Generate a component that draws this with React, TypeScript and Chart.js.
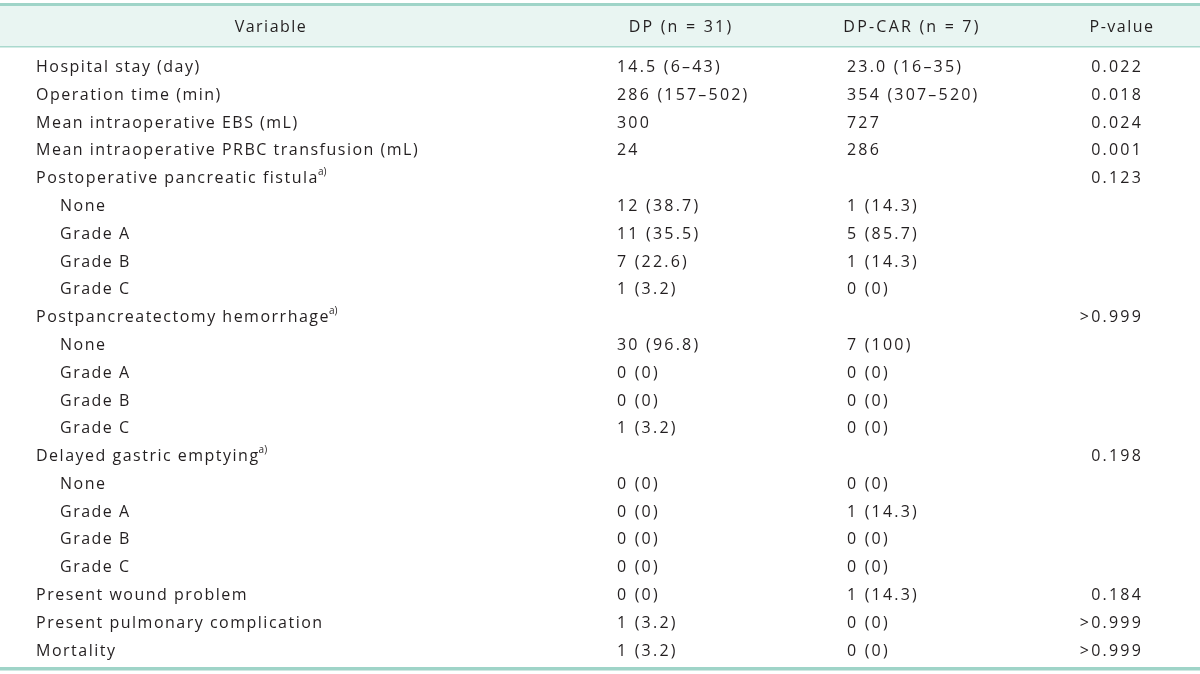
import { useEffect, useRef } from "react";
import { Chart, registerables } from "chart.js";

Chart.register(...registerables);

// ---- table content ----
const headers = ["Variable", "DP (n = 31)", "DP-CAR (n = 7)", "P-value"];

const variables = [
  "Hospital stay (day)",
  "Operation time (min)",
  "Mean intraoperative EBS (mL)",
  "Mean intraoperative PRBC transfusion (mL)",
  "Postoperative pancreatic fistula",
  "None",
  "Grade A",
  "Grade B",
  "Grade C",
  "Postpancreatectomy hemorrhage",
  "None",
  "Grade A",
  "Grade B",
  "Grade C",
  "Delayed gastric emptying",
  "None",
  "Grade A",
  "Grade B",
  "Grade C",
  "Present wound problem",
  "Present pulmonary complication",
  "Mortality",
];

const subRows = [
  false, false, false, false, false, true, true, true, true,
  false, true, true, true, true,
  false, true, true, true, true,
  false, false, false,
];

const footnotes = [
  "", "", "", "", "a)", "", "", "", "",
  "a)", "", "", "", "",
  "a)", "", "", "", "",
  "", "", "",
];

const dpValues = [
  "14.5 (6–43)", "286 (157–502)", "300", "24", "",
  "12 (38.7)", "11 (35.5)", "7 (22.6)", "1 (3.2)", "",
  "30 (96.8)", "0 (0)", "0 (0)", "1 (3.2)", "",
  "0 (0)", "0 (0)", "0 (0)", "0 (0)",
  "0 (0)", "1 (3.2)", "1 (3.2)",
];

const carValues = [
  "23.0 (16–35)", "354 (307–520)", "727", "286", "",
  "1 (14.3)", "5 (85.7)", "1 (14.3)", "0 (0)", "",
  "7 (100)", "0 (0)", "0 (0)", "0 (0)", "",
  "0 (0)", "1 (14.3)", "0 (0)", "0 (0)",
  "1 (14.3)", "0 (0)", "0 (0)",
];

const pValues = [
  "0.022", "0.018", "0.024", "0.001", "0.123",
  "", "", "", "", ">0.999",
  "", "", "", "", "0.198",
  "", "", "", "",
  "0.184", ">0.999", ">0.999",
];

// ---- layout / style (not data) ----
const FONT_FAMILY = "'Open Sans', 'Noto Sans', sans-serif";
const FONT_SIZE = 16;
const LETTER_SPACING = 1.5;
const NUM_SPACING = 2.2;
const TEXT_COLOR = "#231f20";
const RULE_COLOR = "#9fd4c8";
const HEADER_BG = "#e9f5f2";
const HEADER_LINE = "#aad9ce";

const colAnchors = { variable: 36, sub: 60, dp: 617, car: 847, p: 1143 };
const headerCenters = [271, 681, 912, 1122];
const headerSpacing = [1.5, 2.2, 2.2, 1.5];

const tablePlugin = {
  id: "tableText",
  beforeDraw(chart: any) {
    const { ctx, width } = chart;
    ctx.save();
    ctx.fillStyle = "#ffffff";
    ctx.fillRect(0, 0, width, chart.height);
    // top rule
    ctx.fillStyle = RULE_COLOR;
    ctx.fillRect(0, 3, width, 3);
    // header background
    ctx.fillStyle = HEADER_BG;
    ctx.fillRect(0, 6, width, 40);
    // header bottom line
    ctx.fillStyle = HEADER_LINE;
    ctx.fillRect(0, 46, width, 1.5);
    // bottom rule
    ctx.fillStyle = RULE_COLOR;
    ctx.fillRect(0, 667, width, 3.5);
    // header text
    ctx.font = `${FONT_SIZE}px ${FONT_FAMILY}`;
    ctx.fillStyle = TEXT_COLOR;
    ctx.textAlign = "center";
    ctx.textBaseline = "middle";
    const xs = chart.scales.x;
    headers.forEach((h, i) => {
      (ctx as any).letterSpacing = `${headerSpacing[i]}px`;
      ctx.fillText(h, xs.getPixelForValue(headerCenters[i]), 27);
    });
    ctx.restore();
  },
  afterDatasetsDraw(chart: any) {
    const { ctx } = chart;
    ctx.save();
    ctx.fillStyle = TEXT_COLOR;
    ctx.textBaseline = "middle";
    chart.data.datasets.forEach((ds: any, di: number) => {
      const meta = chart.getDatasetMeta(di);
      meta.data.forEach((pt: any, i: number) => {
        const txt = ds.texts[i];
        if (!txt) return;
        ctx.font = `${FONT_SIZE}px ${FONT_FAMILY}`;
        (ctx as any).letterSpacing = `${ds.spacing}px`;
        ctx.textAlign = ds.align;
        ctx.fillText(txt, pt.x, pt.y);
        if (ds.notes && ds.notes[i]) {
          const w = ctx.measureText(txt).width;
          ctx.font = `${Math.round(FONT_SIZE * 0.6)}px ${FONT_FAMILY}`;
          (ctx as any).letterSpacing = "0px";
          ctx.textAlign = "left";
          ctx.fillText(ds.notes[i], pt.x + w - 1, pt.y - 6);
        }
      });
    });
    ctx.restore();
  },
};

export default function App() {
  const ref = useRef<HTMLCanvasElement>(null);
  useEffect(() => {
    if (!ref.current) return;
    const chart = new Chart(ref.current, {
      type: "scatter",
      data: {
        datasets: [
          {
            label: headers[0],
            data: variables.map((_, i) => ({ x: subRows[i] ? colAnchors.sub : colAnchors.variable, y: i })),
            texts: variables,
            notes: footnotes,
            align: "left",
            spacing: LETTER_SPACING,
            pointRadius: 0,
          } as any,
          {
            label: headers[1],
            data: dpValues.map((_, i) => ({ x: colAnchors.dp, y: i })),
            texts: dpValues,
            align: "left",
            spacing: NUM_SPACING,
            pointRadius: 0,
          } as any,
          {
            label: headers[2],
            data: carValues.map((_, i) => ({ x: colAnchors.car, y: i })),
            texts: carValues,
            align: "left",
            spacing: NUM_SPACING,
            pointRadius: 0,
          } as any,
          {
            label: headers[3],
            data: pValues.map((_, i) => ({ x: colAnchors.p, y: i })),
            texts: pValues,
            align: "right",
            spacing: NUM_SPACING,
            pointRadius: 0,
          } as any,
        ],
      },
      options: {
        animation: false,
        responsive: false,
        events: [],
        layout: { padding: { top: 53.5, bottom: 9, left: 0, right: 0 } },
        plugins: { legend: { display: false }, tooltip: { enabled: false } },
        scales: {
          x: { type: "linear", min: 0, max: 1200, display: false },
          y: { type: "linear", min: -0.5, max: variables.length - 0.5, reverse: true, display: false },
        },
      },
      plugins: [tablePlugin],
    });
    return () => chart.destroy();
  }, []);
  return (
    <div style={{ position: "fixed", left: 0, top: 0, width: 1200, height: 674, background: "#fff" }}>
      <canvas ref={ref} width={1200} height={674} style={{ width: 1200, height: 674 }} />
    </div>
  );
}
